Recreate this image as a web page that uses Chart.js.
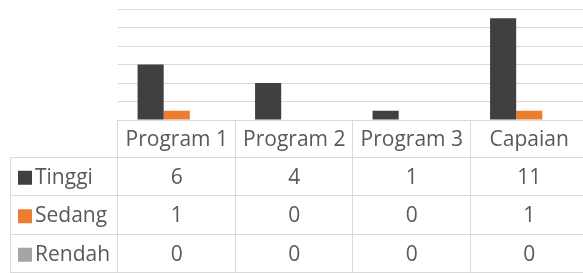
<!DOCTYPE html>
<html>
<head>
<meta charset="utf-8">
<script src="https://cdn.jsdelivr.net/npm/chart.js@4.4.1/dist/chart.umd.min.js"></script>
<style>
  html, body { margin: 0; padding: 0; overflow: hidden; background: #fff; }
  #wrap { width: 588px; height: 273px; }
</style>
</head>
<body>
<div id="wrap"><canvas id="chart" width="588" height="273"></canvas></div>
<script>
const CATEGORIES = ['Program 1', 'Program 2', 'Program 3', 'Capaian'];
const TINGGI = [6, 4, 1, 11];
const SEDANG = [1, 0, 0, 1];
const RENDAH = [0, 0, 0, 0];
const SERIES_NAMES = ['Tinggi', 'Sedang', 'Rendah'];
const SERIES_COLORS = ['#404040', '#ED7D31', '#A5A5A5'];

const FONT = '"Open Sans", sans-serif';
const TEXT_COLOR = '#595959';
const LINE_COLOR = '#d9d9d9';

// draws the Excel-style data table under the plot
const dataTable = {
  id: 'dataTable',
  afterDraw(chart) {
    const ctx = chart.ctx;
    const area = chart.chartArea;
    const x = chart.scales.x;
    const colW = (area.right - area.left) / CATEGORIES.length;
    const top = area.bottom;
    const headH = 37.5;
    const rowH = 38.5;
    const tableLeft = 10;
    const bottom = top + headH + rowH * SERIES_NAMES.length;

    ctx.save();
    ctx.strokeStyle = LINE_COLOR;
    ctx.lineWidth = 1;
    ctx.beginPath();
    // horizontal lines
    ctx.moveTo(area.left, top + 0.5); ctx.lineTo(area.right, top + 0.5);
    for (let r = 0; r <= SERIES_NAMES.length; r++) {
      const y = Math.round(top + headH + r * rowH) - 0.5;
      ctx.moveTo(tableLeft, y); ctx.lineTo(area.right, y);
    }
    // vertical lines
    ctx.moveTo(tableLeft + 0.5, top + headH); ctx.lineTo(tableLeft + 0.5, bottom);
    for (let i = 0; i <= CATEGORIES.length; i++) {
      const xx = Math.round(area.left + i * colW) - 0.5;
      ctx.moveTo(xx, top); ctx.lineTo(xx, bottom);
    }
    ctx.stroke();

    ctx.fillStyle = TEXT_COLOR;
    ctx.font = '21px ' + FONT;
    ctx.textAlign = 'center';
    ctx.textBaseline = 'middle';
    CATEGORIES.forEach((c, i) => {
      ctx.fillText(c, x.getPixelForValue(i), top + headH / 2 + 1);
    });

    chart.data.datasets.forEach((ds, r) => {
      const cy = top + headH + r * rowH + rowH / 2 + 1;
      ctx.fillStyle = ds.backgroundColor;
      ctx.fillRect(18, cy - 7, 14, 14);
      ctx.fillStyle = TEXT_COLOR;
      ctx.textAlign = 'left';
      ctx.fillText(ds.label, 35, cy);
      ctx.textAlign = 'center';
      ds.data.forEach((v, i) => {
        ctx.fillText(String(v), x.getPixelForValue(i), cy);
      });
    });
    ctx.restore();
  }
};

new Chart(document.getElementById('chart'), {
  type: 'bar',
  data: {
    labels: CATEGORIES,
    datasets: [
      { label: SERIES_NAMES[0], data: TINGGI, backgroundColor: SERIES_COLORS[0] },
      { label: SERIES_NAMES[1], data: SEDANG, backgroundColor: SERIES_COLORS[1] },
      { label: SERIES_NAMES[2], data: RENDAH, backgroundColor: SERIES_COLORS[2] },
    ]
  },
  options: {
    responsive: false,
    animation: false,
    layout: { padding: { left: 118, right: 0, top: 9, bottom: 153 } },
    plugins: { legend: { display: false }, tooltip: { enabled: false } },
    datasets: { bar: { categoryPercentage: 0.667, barPercentage: 1, borderWidth: 0 } },
    scales: {
      x: { display: false, grid: { display: false } },
      y: {
        min: 0, max: 12,
        ticks: { display: false, stepSize: 2 },
        grid: { color: LINE_COLOR, drawTicks: false },
        border: { display: false }
      }
    }
  },
  plugins: [dataTable]
});
</script>
</body>
</html>
